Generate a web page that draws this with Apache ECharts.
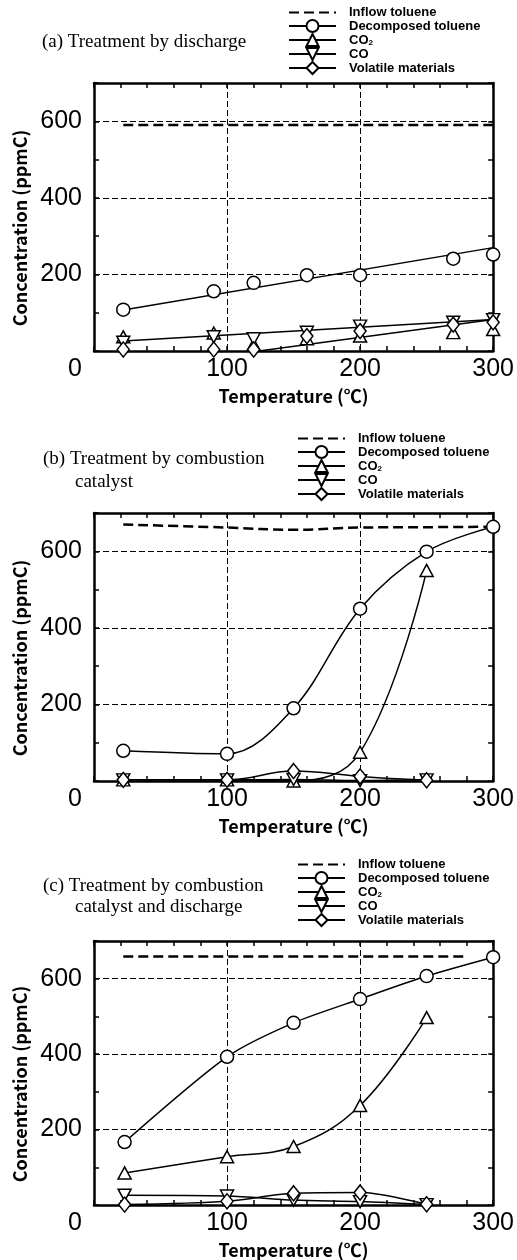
<!DOCTYPE html>
<html>
<head>
<meta charset="utf-8">
<script src="https://cdn.jsdelivr.net/npm/echarts@6/dist/echarts.min.js"></script>
<style>
  html, body { margin: 0; padding: 0; background: #fff; }
  #chart { width: 517px; height: 1260px; }
</style>
</head>
<body>
<div id="chart"></div>
<script>
// (a) treatment by discharge
var tempA = [22, 90, 120, 160, 200, 270, 300]
var decompA = [108, 156, 178, 198, 198, 241, 252]
var co2A = [37, 47, 17, 32, 39, 48, 56]
var coA = [23, 37, 32, 49, 65, 75, 82]
var volA = [4, 4, 4, 39, 52, 69, 75]
var inflowA = [[22, 590], [300, 590]]
var decompFitA = [[22, 107], [300, 270]]
var gasFitA = [[22, 26], [300, 82]]
var volFitA = [[124, 0], [300, 82]]

// (b) treatment by combustion catalyst
var tempB = [22, 100, 150, 200, 250, 300]
var inflowB = [670, 662, 656, 662, 663, 664]
var decompB = [79, 71, 190, 450, 599, 664]
var tempB2 = [22, 100, 150, 200, 250]
var co2B = [3, 3, 0, 75, 550]
var coB = [3, 3, 4, 1, 3]
var volB = [3, 3, 26, 12, 2]

// (c) treatment by combustion catalyst and discharge
var tempC = [23, 100, 150, 200, 250, 300]
var decompC = [167, 393, 483, 546, 607, 657]
var tempC2 = [23, 100, 150, 200, 250]
var co2C = [85, 128, 155, 264, 497]
var coC = [26, 24, 13, 9, 1]
var volC = [1, 10, 31, 33, 2]
var inflowC = [[22, 659], [280, 659]]

var legendNames = ['Inflow toluene', 'Decomposed toluene', 'CO2', 'CO', 'Volatile materials']
var xTicks = [0, 100, 200, 300]
var yLabels = [200, 400, 600]

var numFont = "'Liberation Sans', sans-serif"
var nameFont = "'Noto Sans CJK JP', 'Liberation Sans', sans-serif"
var serif = "'Liberation Serif', 'DejaVu Serif', serif"

function zip(xs, ys) {
  return xs.map(function(x, i) { return [x, ys[i]] })
}

var grids = [
  { left: 94, right: 20, top: 83, height: 268 },
  { left: 94, right: 20, top: 513, height: 268 },
  { left: 94, right: 20, top: 941, height: 265 }
]

var blackLine = { color: '#000', width: 2.5 }
var tickLine = { color: '#000', width: 1.5 }
var dashGrid = { color: '#000', width: 1, type: [6, 3] }

function xAxisFor(g, main) {
  return {
    type: 'value', gridIndex: g, position: main ? 'bottom' : 'top',
    min: xTicks[0], max: xTicks[xTicks.length - 1], interval: 100,
    axisLine: { show: true, onZero: false, lineStyle: blackLine },
    axisTick: { show: true, inside: true, length: 5, lineStyle: tickLine },
    minorTick: { show: true, splitNumber: 5, length: 5, lineStyle: tickLine },
    splitLine: { show: main, lineStyle: dashGrid },
    axisLabel: main ? {
      show: true, color: '#000', fontSize: 25, fontFamily: numFont, margin: 6,
      formatter: function(v) { return v === 0 ? '{z|0}' : String(v) },
      rich: { z: { fontSize: 25, fontFamily: numFont, color: '#000', padding: [0, 38, 0, 0] } }
    } : { show: false },
    name: main ? 'Temperature (℃)' : '',
    nameLocation: 'middle', nameGap: 36,
    nameTextStyle: { color: '#000', fontSize: 18, fontFamily: nameFont, fontWeight: 'bold' }
  }
}

function yAxesFor(g) {
  return [{
    type: 'value', gridIndex: g, position: 'left', min: 0, max: 700, interval: 200,
    axisLine: { show: true, onZero: false, lineStyle: blackLine },
    axisTick: { show: false },
    splitLine: { show: true, lineStyle: dashGrid },
    axisLabel: {
      color: '#000', fontSize: 25, fontFamily: numFont, margin: 12,
      formatter: function(v) { return yLabels.indexOf(v) >= 0 ? String(v) : '' }
    },
    name: 'Concentration (ppmC)', nameLocation: 'middle', nameGap: 64, nameRotate: 90,
    nameTextStyle: { color: '#000', fontSize: 18, fontFamily: nameFont, fontWeight: 'bold', padding: [0, 22, 0, 0] }
  }, {
    type: 'value', gridIndex: g, position: 'left', min: 0, max: 700, interval: 100,
    axisLine: { show: false },
    axisTick: { show: true, inside: true, length: 5, lineStyle: tickLine },
    splitLine: { show: false }, axisLabel: { show: false }
  }, {
    type: 'value', gridIndex: g, position: 'right', min: 0, max: 700, interval: 100,
    axisLine: { show: true, onZero: false, lineStyle: blackLine },
    axisTick: { show: true, inside: true, length: 5, lineStyle: tickLine },
    splitLine: { show: false }, axisLabel: { show: false }
  }]
}

var markerStyle = { color: '#fff', borderColor: '#000', borderWidth: 1.5, opacity: 1 }
var symbols = {
  'Decomposed toluene': { symbol: 'circle', symbolSize: 13, symbolRotate: 0 },
  'CO2': { symbol: 'triangle', symbolSize: [13, 12], symbolRotate: 0 },
  'CO': { symbol: 'triangle', symbolSize: [13, 12], symbolRotate: 180 },
  'Volatile materials': { symbol: 'diamond', symbolSize: [12, 15], symbolRotate: 0 }
}

function curve(g, name, data, smooth) {
  var s = symbols[name]
  return {
    type: 'line', name: name, xAxisIndex: g * 2, yAxisIndex: g * 3, data: data,
    symbol: s.symbol, symbolSize: s.symbolSize, symbolRotate: s.symbolRotate, showSymbol: true,
    smooth: smooth, lineStyle: { color: '#000', width: 1.5 }, itemStyle: markerStyle,
    animation: false, z: 3
  }
}

function inflow(g, data, smooth) {
  return {
    type: 'line', name: 'Inflow toluene', xAxisIndex: g * 2, yAxisIndex: g * 3, data: data,
    symbol: 'none', smooth: smooth, lineStyle: { color: '#000', width: 2.5, type: [10, 5] },
    itemStyle: { color: '#000' }, animation: false, z: 2
  }
}

function fitLine(name, data) {
  return {
    type: 'line', name: name, xAxisIndex: 0, yAxisIndex: 0, data: data, symbol: 'none',
    lineStyle: { color: '#000', width: 1.5 }, animation: false, z: 2
  }
}

function dots(name, data) {
  var s = symbols[name]
  return {
    type: 'scatter', name: name, xAxisIndex: 0, yAxisIndex: 0, data: data,
    symbol: s.symbol, symbolSize: s.symbolSize, symbolRotate: s.symbolRotate,
    itemStyle: markerStyle, animation: false, z: 4
  }
}

function legendAt(left, top) {
  return {
    orient: 'vertical', left: left, top: top, padding: 0, itemGap: 0,
    itemWidth: 47, itemHeight: 15, selectedMode: false,
    data: legendNames.map(function(n) {
      return n === 'Inflow toluene' ? { name: n, itemStyle: { opacity: 0 } } : { name: n }
    }),
    formatter: function(n) { return n === 'CO2' ? 'CO{s|2}' : n },
    textStyle: {
      color: '#000', fontSize: 13, fontWeight: 'bold', fontFamily: "'Liberation Sans', sans-serif",
      padding: [0, 0, 0, 8],
      rich: { s: { fontSize: 8, fontWeight: 'bold', padding: [6, 0, 0, 0] } }
    }
  }
}

function titleAt(text, left, top) {
  return { text: text, left: left, top: top, padding: 0,
    textStyle: { color: '#000', fontSize: 19, fontWeight: 'normal', fontFamily: serif } }
}

var xAxes = [], yAxes = []
for (var g = 0; g < 3; g++) {
  xAxes.push(xAxisFor(g, true), xAxisFor(g, false))
  yAxes = yAxes.concat(yAxesFor(g))
}

var series = [
  // panel (b) first so the legends take their icons from these
  inflow(1, zip(tempB, inflowB), 0.4),
  curve(1, 'Decomposed toluene', zip(tempB, decompB), 0.35),
  curve(1, 'CO2', zip(tempB2, co2B), 0.4),
  curve(1, 'CO', zip(tempB2, coB), 0.4),
  curve(1, 'Volatile materials', zip(tempB2, volB), 0.4),
  // panel (a)
  inflow(0, inflowA, false),
  fitLine('fit decomposed', decompFitA),
  fitLine('fit gas', gasFitA),
  fitLine('fit volatile', volFitA),
  dots('Decomposed toluene', zip(tempA, decompA)),
  dots('CO2', zip(tempA, co2A)),
  dots('CO', zip(tempA, coA)),
  dots('Volatile materials', zip(tempA, volA)),
  // panel (c)
  inflow(2, inflowC, false),
  curve(2, 'Decomposed toluene', zip(tempC, decompC), 0.25),
  curve(2, 'CO2', zip(tempC2, co2C), 0.4),
  curve(2, 'CO', zip(tempC2, coC), 0.3),
  curve(2, 'Volatile materials', zip(tempC2, volC), 0.3)
]

var chart = echarts.init(document.getElementById('chart'))
chart.setOption({
  backgroundColor: '#fff',
  animation: false,
  title: [
    titleAt('(a) Treatment by discharge', 42, 33),
    titleAt('(b) Treatment by combustion', 43, 450),
    titleAt('catalyst', 75, 473),
    titleAt('(c) Treatment by combustion', 43, 877),
    titleAt('catalyst and discharge', 75, 898)
  ],
  legend: [legendAt(288, 6), legendAt(297, 432), legendAt(297, 858)],
  grid: grids,
  xAxis: xAxes,
  yAxis: yAxes,
  series: series
})
</script>
</body>
</html>
